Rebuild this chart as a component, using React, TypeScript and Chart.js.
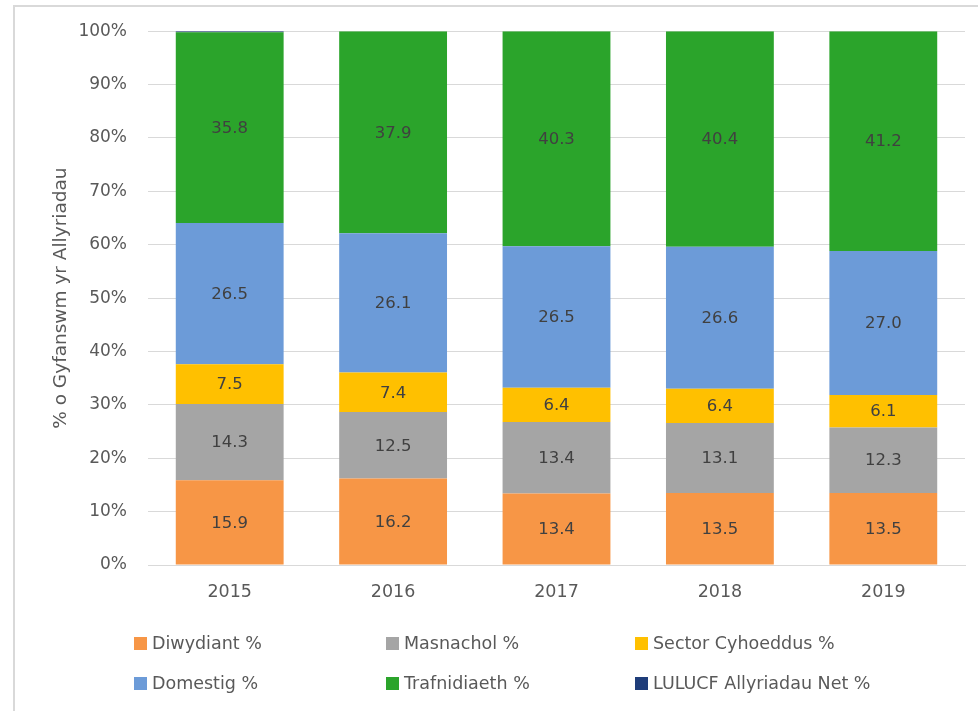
import React, { useEffect, useRef } from "react";
import { Chart, registerables } from "chart.js";

Chart.register(...registerables);

const years = ["2015", "2016", "2017", "2018", "2019"];
const diwydiant = [15.9, 16.2, 13.4, 13.5, 13.5];
const masnachol = [14.3, 12.5, 13.4, 13.1, 12.3];
const sectorCyhoeddus = [7.5, 7.4, 6.4, 6.4, 6.1];
const domestig = [26.5, 26.1, 26.5, 26.6, 27.0];
const trafnidiaeth = [35.8, 37.9, 40.3, 40.4, 41.2];
const lulucf = [0.2, 0, 0, 0, 0];
const yTicks = [0, 10, 20, 30, 40, 50, 60, 70, 80, 90, 100];

const seriesNames = [
  "Diwydiant %",
  "Masnachol %",
  "Sector Cyhoeddus %",
  "Domestig %",
  "Trafnidiaeth %",
  "LULUCF Allyriadau Net %",
];
const seriesColors = ["#F79646", "#A5A5A5", "#FFC000", "#6C9BD8", "#2BA42B", "#1F3D7A"];
const seriesValues = [diwydiant, masnachol, sectorCyhoeddus, domestig, trafnidiaeth, lulucf];
const labelledSeries = [true, true, true, true, true, false];

const FONT = "'DejaVu Sans', sans-serif";
const TEXT = "#595959";

const totals = years.map((_, i) => seriesValues.reduce((s, arr) => s + arr[i], 0));

const dataLabels = {
  id: "dataLabels",
  afterDatasetsDraw(chart: any) {
    const ctx = chart.ctx;
    ctx.save();
    ctx.font = `16.5px ${FONT}`;
    ctx.fillStyle = "#404040";
    ctx.textAlign = "center";
    ctx.textBaseline = "middle";
    chart.data.datasets.forEach((ds: any, di: number) => {
      if (!labelledSeries[di]) return;
      const meta = chart.getDatasetMeta(di);
      meta.data.forEach((bar: any, i: number) => {
        const raw = seriesValues[di][i];
        const cy = (bar.y + bar.base) / 2;
        ctx.fillText(raw.toFixed(1), bar.x, cy + 1);
      });
    });
    ctx.restore();
  },
};

export default function App() {
  const ref = useRef<HTMLCanvasElement | null>(null);

  useEffect(() => {
    if (!ref.current) return;
    const chart = new Chart(ref.current, {
      type: "bar",
      data: {
        labels: years,
        datasets: seriesNames.map((name, si) => ({
          label: name,
          data: seriesValues[si].map((v, i) => (v / totals[i]) * 100),
          backgroundColor: seriesColors[si],
          borderWidth: 0,
          barPercentage: 0.66,
          categoryPercentage: 1,
        })),
      },
      options: {
        responsive: false,
        animation: false,
        layout: { padding: { top: 30, right: 13, left: 0, bottom: 0 } },
        plugins: {
          legend: { display: false },
          tooltip: { enabled: false },
        },
        scales: {
          x: {
            stacked: true,
            grid: { display: false, drawTicks: false },
            border: { display: true, color: "#D9D9D9", width: 1 },
            ticks: { color: TEXT, font: { family: FONT, size: 17.5 }, padding: 17 },
            afterFit(scale: any) {
              scale.height = 146;
            },
          },
          y: {
            stacked: true,
            min: 0,
            max: 100,
            afterBuildTicks(scale: any) {
              scale.ticks = yTicks.map((v) => ({ value: v }));
            },
            grid: { color: "#D9D9D9", drawTicks: false, lineWidth: 1 },
            border: { display: false },
            ticks: {
              color: TEXT,
              font: { family: FONT, size: 17 },
              padding: 21,
              callback: (v: any) => `${v}%`,
            },
            title: {
              display: true,
              text: "% o Gyfanswm yr Allyriadau",
              color: TEXT,
              font: { family: FONT, size: 18.5, weight: "normal" },
              padding: { top: 50, bottom: 0 },
            },
            afterFit(scale: any) {
              scale.width = 148;
            },
          },
        },
      },
      plugins: [dataLabels],
    });
    return () => chart.destroy();
  }, []);

  const colX = [134, 386, 635];
  const rowY = [643, 683];

  return (
    <div style={{ position: "absolute", left: 0, top: 0, width: 978, height: 711, background: "#fff", overflow: "hidden" }}>
      <div
        style={{
          position: "absolute",
          left: 13,
          top: 5,
          width: 978,
          height: 711,
          borderLeft: "2px solid #D9D9D9",
          borderTop: "2px solid #D9D9D9",
        }}
      />
      <canvas ref={ref} width={978} height={711} style={{ position: "absolute", left: 0, top: 0, width: 978, height: 711 }} />
      {seriesNames.map((name, i) => {
        const col = i % 3;
        const row = Math.floor(i / 3);
        return (
          <div
            key={name}
            style={{
              position: "absolute",
              left: colX[col],
              top: rowY[row] - 12,
              height: 24,
              display: "flex",
              alignItems: "center",
              fontFamily: FONT,
              fontSize: 17.5,
              color: TEXT,
              whiteSpace: "nowrap",
            }}
          >
            <span style={{ display: "inline-block", width: 13, height: 13, background: seriesColors[i], marginRight: 5 }} />
            <span>{name}</span>
          </div>
        );
      })}
    </div>
  );
}
